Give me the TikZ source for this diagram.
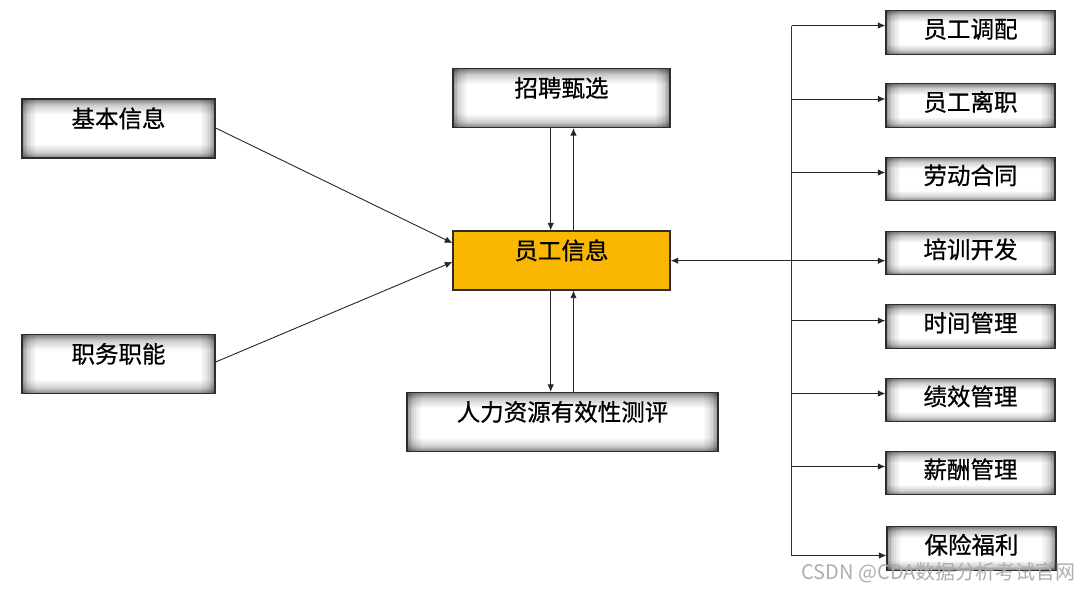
\documentclass[tikz,border=0pt]{standalone}
\usepackage{fontspec}
\setmainfont{Noto Sans CJK SC}
\newfontfamily\boxfont{Noto Sans CJK SC}[FakeBold=0.7]
\usetikzlibrary{arrows.meta}
\definecolor{hrorange}{RGB}{249,183,0}
\definecolor{boxedge}{RGB}{45,45,45}
\pgfdeclareverticalshading{boxsh}{100bp}{color(0bp)=(black!50); color(25bp)=(black!50); color(30bp)=(black!18); color(37bp)=(white); color(62bp)=(white); color(70bp)=(black!20); color(75bp)=(black!50); color(100bp)=(black!50)}
\tikzset{
  graybox/.style={draw=boxedge, line width=1.3pt, shade, shading=boxsh, minimum height=#1,
    inner sep=0pt, font=\boxfont\fontsize{23.5}{25}\selectfont,
    path picture={
      \foreach \d/\o in {0/0.38,1.8/0.30,3.6/0.23,5.4/0.17,7.2/0.12,9/0.08,10.8/0.05,12.6/0.02}{
        \fill[black, fill opacity=\o]
          ([xshift=\d pt]path picture bounding box.south west) rectangle ([xshift=\d pt+1.8pt]path picture bounding box.north west);
        \fill[black, fill opacity=\o]
          ([xshift=-\d pt]path picture bounding box.south east) rectangle ([xshift=-\d pt-1.8pt]path picture bounding box.north east);
      }
    }},
  bigbox/.style={graybox=59pt, text height=8pt, text depth=10.4pt},
  smallbox/.style={graybox=43.5pt, text height=16pt, text depth=5.4pt, minimum width=169pt},
  corebox/.style={draw=boxedge, line width=1.3pt, fill=hrorange, minimum height=59pt, minimum width=217pt,
    inner sep=0pt, font=\boxfont\fontsize{23.5}{25}\selectfont, text height=8pt, text depth=10.4pt},
  arr/.style={line width=0.9pt, draw=black!85, -{Latex[length=7.5pt,width=6.5pt]}},
  bus/.style={line width=1.4pt, draw=black!80},
  wm/.style={text=black!32, font=\fontsize{20}{22}\selectfont, inner sep=0pt}
}
\begin{document}
\begin{tikzpicture}[x=1pt,y=-1pt]
\useasboundingbox (0,0) rectangle (1080,590);
% left
\node[bigbox, minimum width=193pt] (basic) at (118.5,128.5) {基本信息};
\node[bigbox, minimum width=193pt] (duty) at (118.5,364) {职务职能};
% center
\node[bigbox, minimum width=217pt] (recruit) at (561.5,98) {招聘甄选};
\node[corebox] (emp) at (561.5,260.5) {员工信息};
\node[bigbox, minimum width=311pt] (eval) at (562.5,422) {人力资源有效性测评};
% right
\node[smallbox] (r1) at (970.5,32.5) {员工调配};
\node[smallbox] (r2) at (970.5,105.5) {员工离职};
\node[smallbox] (r3) at (970.5,179) {劳动合同};
\node[smallbox] (r4) at (970.5,253) {培训开发};
\node[smallbox] (r5) at (970.5,326.5) {时间管理};
\node[smallbox] (r6) at (970.5,400) {绩效管理};
\node[smallbox] (r7) at (970.5,473) {薪酬管理};
\node[smallbox] (r8) at (971.5,548.5) {保险福利};
% left arrows
\draw[arr] (basic.east |- 0,128) -- (emp.west |- 0,243);
\draw[arr] (duty.east |- 0,362) -- (emp.west |- 0,262);
% vertical arrows
\draw[arr] (recruit.south -| 550.7,0) -- (emp.north -| 550.7,0);
\draw[arr] (emp.north -| 573.5,0) -- (recruit.south -| 573.5,0);
\draw[arr] (emp.south -| 550.7,0) -- (eval.north -| 550.7,0);
\draw[arr] (eval.north -| 573.5,0) -- (emp.south -| 573.5,0);
% bus
\coordinate (b1) at (791.5,25.5);
\coordinate (b2) at (791.5,99);
\coordinate (b3) at (791.5,172.5);
\coordinate (b4) at (791.5,260.7);
\coordinate (b5) at (791.5,320.7);
\coordinate (b6) at (791.5,393.5);
\coordinate (b7) at (791.5,466.5);
\coordinate (b8) at (791.5,555.5);
\draw[bus] (b1) -- (b8);
\draw[arr] (b1) -- (r1.west |- b1);
\draw[arr] (b2) -- (r2.west |- b2);
\draw[arr] (b3) -- (r3.west |- b3);
\draw[arr] (b4) -- (r4.west |- b4);
\draw[arr, line width=1.3pt] (b4) -- (emp.east |- b4);
\draw[arr] (b5) -- (r5.west |- b5);
\draw[arr] (b6) -- (r6.west |- b6);
\draw[arr] (b7) -- (r7.west |- b7);
\draw[arr] (b8) -- (r8.west |- b8);
% watermark
\node[wm, anchor=east] (wm) at (1076,573) {CSDN @CDA数据分析考试官网};
\end{tikzpicture}
\end{document}
